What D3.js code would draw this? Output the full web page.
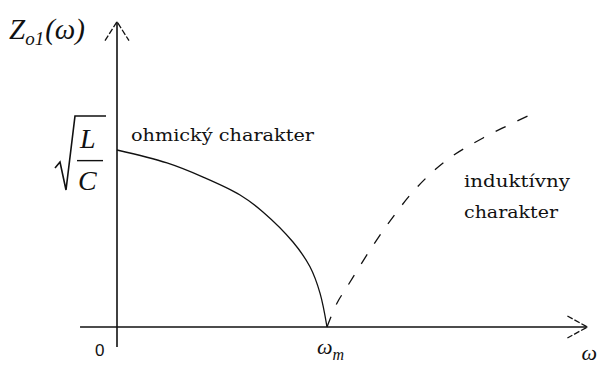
<!DOCTYPE html>
<html>
<head>
<meta charset="utf-8">
<script src="https://cdn.jsdelivr.net/npm/d3@7"></script>
<style>
  body { margin: 0; background: #fff; }
  svg { display: block; }
</style>
</head>
<body>
<svg id="chart"></svg>
<script>
// omega normalised to omega_m, Z normalised to sqrt(L/C)
const ohmicW = [0, 0.238, 0.41, 0.586, 0.695, 0.838, 0.919, 0.967, 1.0];
const ohmicZ = [1.0, 0.927, 0.847, 0.746, 0.65, 0.48, 0.34, 0.19, 0];
const inductW = [1.0, 1.048, 1.095, 1.205, 1.314, 1.429, 1.571, 1.743, 1.967];
const inductZ = [0, 0.136, 0.226, 0.435, 0.621, 0.79, 0.944, 1.068, 1.198];
const labels = ['ohmický charakter', 'induktívny', 'charakter'];

const width = 597;
const height = 365;

const svg = d3.select('#chart')
  .attr('width', width)
  .attr('height', height);

const x = d3.scaleLinear().domain([0, 1]).range([117, 327]);
const y = d3.scaleLinear().domain([0, 1]).range([327, 150]);

const ink = '#111';
const mathFont = "'Liberation Serif', 'Times New Roman', serif";
const textFont = "'DejaVu Serif', 'Liberation Serif', serif";

// axes
svg.append('line')
  .attr('x1', x(-0.176)).attr('x2', x(2.24))
  .attr('y1', y(0)).attr('y2', y(0))
  .attr('stroke', ink).attr('stroke-width', 1.6);
svg.append('line')
  .attr('x1', x(0)).attr('x2', x(0))
  .attr('y1', y(-0.113)).attr('y2', y(1.725))
  .attr('stroke', ink).attr('stroke-width', 1.6);

// arrow heads (open V)
const xt = [x(2.24), y(0)];
svg.append('path')
  .attr('d', `M${xt[0] - 20},${xt[1] - 11}L${xt[0]},${xt[1]}L${xt[0] - 20},${xt[1] + 11}`)
  .attr('fill', 'none').attr('stroke', ink).attr('stroke-width', 1.3)
  .attr('stroke-dasharray', '6,2');
const yt = [x(0), y(1.725)];
svg.append('path')
  .attr('d', `M${yt[0] - 12},${yt[1] + 19}L${yt[0]},${yt[1]}L${yt[0] + 12},${yt[1] + 19}`)
  .attr('fill', 'none').attr('stroke', ink).attr('stroke-width', 1.3)
  .attr('stroke-dasharray', '6,2');

const line = d3.line()
  .x(d => x(d[0]))
  .y(d => y(d[1]))
  .curve(d3.curveCatmullRom.alpha(0.5));

svg.append('path')
  .datum(d3.zip(ohmicW, ohmicZ))
  .attr('fill', 'none')
  .attr('stroke', ink)
  .attr('stroke-width', 1.3)
  .attr('d', line);

svg.append('path')
  .datum(d3.zip(inductW, inductZ))
  .attr('fill', 'none')
  .attr('stroke', ink)
  .attr('stroke-width', 1.3)
  .attr('stroke-dasharray', '11,13')
  .attr('d', line);

// axis labels
svg.append('text')
  .attr('x', x(0) - 22).attr('y', y(0) + 29)
  .style('font-family', "'Liberation Sans', Arial, sans-serif")
  .attr('font-size', 17).attr('fill', ink)
  .text('0');

const omegaM = svg.append('text')
  .style('font-family', mathFont).style('font-style', 'italic')
  .attr('x', x(1) - 10).attr('y', y(0) + 27)
  .attr('font-size', 22).attr('fill', ink);
omegaM.append('tspan').text('ω');
omegaM.append('tspan').attr('dy', 6).attr('font-size', 16).text('m');

svg.append('text')
  .style('font-family', mathFont).style('font-style', 'italic')
  .attr('x', x(2.24) - 6).attr('y', y(0) + 33)
  .attr('font-size', 22).attr('fill', ink)
  .text('ω');

const zl = svg.append('text')
  .style('font-family', mathFont).style('font-style', 'italic')
  .attr('x', 9).attr('y', 39)
  .attr('font-size', 29).attr('fill', ink);
zl.append('tspan').text('Z');
zl.append('tspan').attr('dy', 6).attr('font-size', 19).text('o1');
zl.append('tspan').attr('dy', -6).attr('dx', 1).text('(ω)');

// sqrt(L/C) label
svg.append('path')
  .attr('d', 'M55,168 L60,162 L66,190 L75,116 L106,116')
  .attr('fill', 'none').attr('stroke', ink).attr('stroke-width', 1.6);
svg.append('line')
  .attr('x1', 77).attr('x2', 103).attr('y1', y(0.94)).attr('y2', y(0.94))
  .attr('stroke', ink).attr('stroke-width', 1.4);
svg.append('text')
  .style('font-family', mathFont).style('font-style', 'italic')
  .attr('x', 80).attr('y', 148)
  .attr('font-size', 28).attr('fill', ink)
  .text('L');
svg.append('text')
  .style('font-family', mathFont).style('font-style', 'italic')
  .attr('x', 78).attr('y', 190)
  .attr('font-size', 28).attr('fill', ink)
  .text('C');

// region annotations
const note = (t, px, py, len) => svg.append('text')
  .style('font-family', textFont)
  .attr('x', px).attr('y', py)
  .attr('font-size', 17).attr('fill', ink)
  .attr('textLength', len).attr('lengthAdjust', 'spacingAndGlyphs')
  .text(t);
note(labels[0], 131, 141, 183);
note(labels[1], 464, 187, 106);
note(labels[2], 464, 218, 94);
</script>
</body>
</html>
